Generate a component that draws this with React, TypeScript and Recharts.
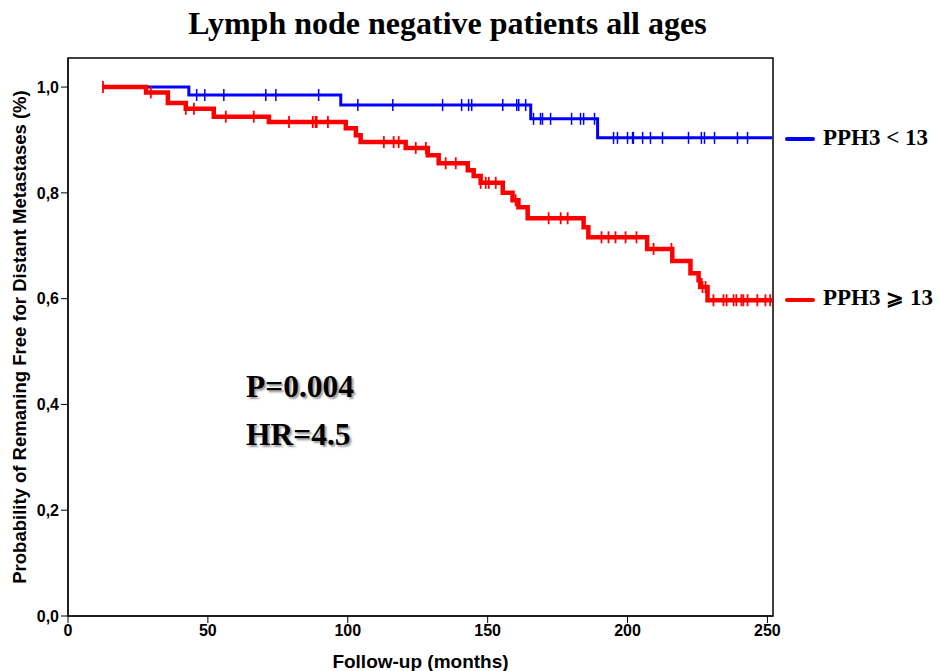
import React from 'react';
import { ComposedChart, Line, Scatter, XAxis, YAxis, ReferenceArea } from 'recharts';

// Kaplan-Meier curves (time in months, survival as fraction)
const startTime = 12.5;
const endTime = 251.8;

const lowEventTimes = [43.2, 97.5, 165.4, 189.3];
const lowSurvival = [0.985, 0.966, 0.94, 0.904];
const lowCensored = [
    46, 48.9, 55.7, 70.7, 74.3, 89.6, 103.6, 116.1, 133.9, 140.7, 143.2, 144.3, 155.4, 160.4, 161.1, 163.6,
    166.4, 168.9, 169.6, 172.5, 180, 183.2, 184.3, 188.2, 195, 196.4, 200, 201.8, 202.1, 205.4, 208.2, 212.5,
    221.8, 226.4, 227.5, 231.1, 239.3, 242.9,
];

const highEventTimes = [
    27.9, 35.7, 42.1, 52.1, 71.8, 99.3, 102.9, 104.6, 120.7, 128.6, 132.5, 142.9, 145, 147.5, 155.4, 158.9,
    161, 164.3, 184.3, 186, 207, 216, 222.5, 225.4, 226, 228.6,
];
const highSurvival = [
    0.99, 0.97, 0.959, 0.944, 0.934, 0.922, 0.909, 0.896, 0.885, 0.871, 0.856, 0.843, 0.832, 0.819, 0.8, 0.786,
    0.773, 0.752, 0.735, 0.716, 0.694, 0.671, 0.648, 0.635, 0.622, 0.597,
];
const highCensored = [
    12.5, 29.6, 42.1, 45, 56.4, 66.4, 79, 87.5, 88.5, 88.9, 92.9, 112.9, 116.4, 118.2, 124.3, 127.9, 135, 138.6,
    147.5, 149.3, 150.4, 152.9, 160, 171.8, 176.1, 178.6, 190.7, 193.2, 195.7, 199.3, 203.2, 209.3, 215.7,
    226.8, 227.9, 230.7, 234.3, 235.4, 237.9, 238.9, 240.7, 241.4, 242.9, 246.4, 249.3, 251,
];

const xTicks = [0, 50, 100, 150, 200, 250];
const yTicks = [0, 0.2, 0.4, 0.6, 0.8, 1.0];
const xMax = 252;
const yMax = 1.055;

const stepLine = (times: number[], surv: number[]) => [
    { t: startTime, s: 1 },
    ...times.map((t, i) => ({ t, s: surv[i] })),
    { t: endTime, s: surv[surv.length - 1] },
];

const survAt = (times: number[], surv: number[], t: number) => {
    let s = 1;
    times.forEach((et, i) => {
        if (et <= t) s = surv[i];
    });
    return s;
};

const censorPoints = (censored: number[], times: number[], surv: number[]) =>
    censored.map((t) => ({ t, s: survAt(times, surv, t) }));

const lowLine = stepLine(lowEventTimes, lowSurvival);
const highLine = stepLine(highEventTimes, highSurvival);
const lowTicks = censorPoints(lowCensored, lowEventTimes, lowSurvival);
const highTicks = censorPoints(highCensored, highEventTimes, highSurvival);

const BLUE = '#0000ff';
const RED = '#ff0000';
const sans = '"Liberation Sans", Arial, sans-serif';
const serif = '"Liberation Serif", "Times New Roman", serif';

const censorShape = (color: string, w: number) => (props: any) => {
    const { cx, cy } = props;
    return <line x1={cx} x2={cx} y1={cy - 6} y2={cy + 6} stroke={color} strokeWidth={w} />;
};

const tickStyle = { fill: '#000', fontFamily: sans, fontWeight: 'bold', fontSize: 16 };
const legendText = {
    position: 'absolute' as const, left: 823, fontFamily: serif, fontWeight: 'bold' as const,
    fontSize: 23, color: '#000', whiteSpace: 'nowrap' as const,
};

export default function App() {
    return (
        <div style={{ position: 'absolute', left: 0, top: 0, width: 939, height: 671, background: '#fff', overflow: 'hidden' }}>
            <div
                style={{
                    position: 'absolute', left: 0, width: 895, top: 5, textAlign: 'center',
                    fontFamily: serif, fontWeight: 'bold', fontSize: 32, color: '#000',
                }}
            >
                Lymph node negative patients all ages
            </div>
            <ComposedChart
                width={939}
                height={671}
                margin={{ top: 58, right: 166, left: 18, bottom: 15 }}
            >
                <XAxis
                    dataKey="t"
                    type="number"
                    domain={[0, xMax]}
                    ticks={xTicks}
                    allowDataOverflow
                    height={40}
                    stroke="#000"
                    tickSize={7}
                    tick={tickStyle}
                    label={{
                        value: 'Follow-up (months)', position: 'insideBottom', offset: -12,
                        style: { fill: '#000', fontFamily: sans, fontWeight: 'bold', fontSize: 19 },
                    }}
                />
                <YAxis
                    dataKey="s"
                    type="number"
                    domain={[0, yMax]}
                    ticks={yTicks}
                    allowDataOverflow
                    width={50}
                    stroke="#000"
                    tickSize={7}
                    tickFormatter={(v: number) => v.toFixed(1).replace('.', ',')}
                    tick={tickStyle}
                    label={{
                        value: 'Probability of Remaning Free for Distant Metastases (%)', angle: -90,
                        position: 'insideLeft', offset: 1, dy: 0,
                        style: { textAnchor: 'middle', fill: '#000', fontFamily: sans, fontWeight: 'bold', fontSize: 18.5 },
                    }}
                />
                <ReferenceArea x1={0} x2={xMax} y1={0} y2={yMax} fill="none" stroke="#000" strokeWidth={1.5} ifOverflow="visible" />
                <Line data={lowLine} dataKey="s" type="stepAfter" stroke={BLUE} strokeWidth={3} dot={false} isAnimationActive={false} />
                <Scatter data={lowTicks} dataKey="s" shape={censorShape(BLUE, 1.5)} isAnimationActive={false} />
                <Line data={highLine} dataKey="s" type="stepAfter" stroke={RED} strokeWidth={4.5} dot={false} isAnimationActive={false} />
                <Scatter data={highTicks} dataKey="s" shape={censorShape(RED, 1.8)} isAnimationActive={false} />
            </ComposedChart>

            {/* legend at the end of each curve */}
            <div style={{ position: 'absolute', left: 785, top: 137, width: 30, height: 4, borderRadius: 2, background: BLUE }} />
            <div style={{ ...legendText, top: 125 }}>PPH3 &lt; 13</div>
            <div style={{ position: 'absolute', left: 785, top: 298, width: 30, height: 4, borderRadius: 2, background: RED }} />
            <div style={{ ...legendText, top: 285 }}>
                PPH3 <span style={{ fontSize: 20.5 }}>⩾</span> 13
            </div>

            <div
                style={{
                    position: 'absolute', left: 246, top: 363, fontFamily: serif, fontWeight: 'bold', fontSize: 31.5,
                    color: '#000', lineHeight: '48px', textShadow: '2px 2px 2px #9a9a9a',
                }}
            >
                P=0.004
                <br />
                HR=4.5
            </div>
        </div>
    );
}
